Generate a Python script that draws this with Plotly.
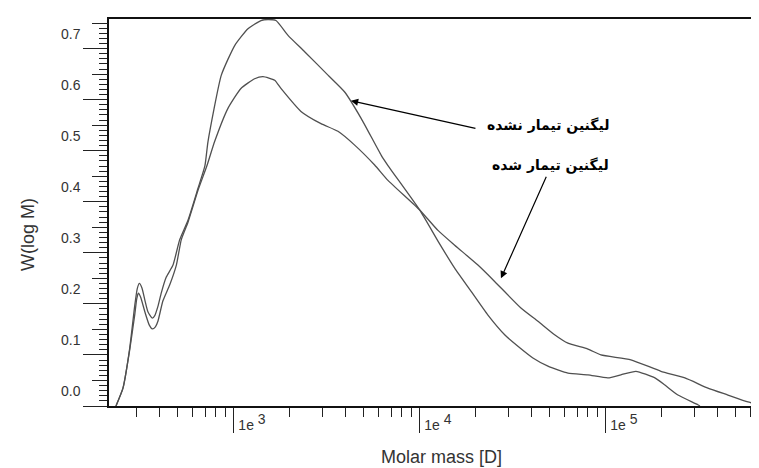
import plotly.graph_objects as go

# Molar mass [D] and W(log M)
mass_untreated = [232, 253, 275, 293, 302, 310, 320, 332, 345, 364, 375, 390, 407, 432, 470, 511,
                  566, 640, 698, 725, 855, 1009, 1189, 1397, 1523, 1682, 1952, 2399, 3202, 3937,
                  4836, 6194, 6730, 9963, 12500, 15370, 18800, 23210, 28640, 33640, 40500, 48770,
                  62480, 80040, 102500, 120400, 145000, 183400, 207600, 243900, 312300, 320200]
w_untreated = [0.0, 0.035, 0.113, 0.198, 0.230, 0.240, 0.231, 0.207, 0.184, 0.172, 0.177, 0.195,
               0.222, 0.252, 0.276, 0.326, 0.364, 0.426, 0.471, 0.518, 0.648, 0.706, 0.739, 0.755,
               0.757, 0.755, 0.726, 0.694, 0.648, 0.615, 0.563, 0.491, 0.471, 0.384, 0.323, 0.270,
               0.225, 0.178, 0.139, 0.117, 0.094, 0.078, 0.0645, 0.061, 0.055, 0.061, 0.068, 0.055,
               0.041, 0.0215, 0.0025, 0.0]

mass_treated = [232, 253, 275, 293, 300, 306, 315, 332, 350, 364, 378, 390, 415, 451, 490, 521,
                566, 640, 716, 787, 928, 1090, 1292, 1432, 1655, 1789, 2292, 2936, 3623, 4456,
                5707, 6730, 9963, 12500, 15370, 20500, 25210, 34910, 43100, 53200, 62480, 80040,
                94000, 136200, 197600, 265900, 353500, 452900, 580000, 716000]
w_treated = [0.0, 0.035, 0.110, 0.180, 0.210, 0.221, 0.213, 0.184, 0.159, 0.151, 0.155, 0.166,
             0.206, 0.237, 0.276, 0.326, 0.360, 0.422, 0.471, 0.518, 0.583, 0.622, 0.641, 0.645,
             0.638, 0.622, 0.577, 0.553, 0.538, 0.511, 0.472, 0.442, 0.384, 0.344, 0.315, 0.276,
             0.244, 0.192, 0.166, 0.139, 0.123, 0.1115, 0.100, 0.0905, 0.068, 0.055, 0.035, 0.0215,
             0.008, 0.0]

label_untreated = "لیگنین تیمار نشده"
label_treated = "لیگنین تیمار شده"

y_major = [0.0, 0.1, 0.2, 0.3, 0.4, 0.5, 0.6, 0.7]
y_major_text = ["0.0", "0.1", "0.2", "0.3", "0.4", "0.5", "0.6", "0.7"]
y_mid = [0.05, 0.15, 0.25, 0.35, 0.45, 0.55, 0.65, 0.75]
x_major = [1e3, 1e4, 1e5]
x_exponents = ["3", "4", "5"]
x_minor = [300, 400, 500, 600, 700, 800, 900,
           2000, 3000, 4000, 5000, 6000, 7000, 8000, 9000,
           20000, 30000, 40000, 50000, 60000, 70000, 80000, 90000,
           200000, 300000, 400000, 500000, 600000, 700000]

x_major_text = ['1e <sup><span style="font-size:14px">' + e + '</span></sup>' for e in x_exponents]

Y_RANGE = [0, 0.758]
X_RANGE = [2.328, 5.85]

line_style = dict(color="#505050", width=1.3, shape="spline", smoothing=0.5)

fig = go.Figure()
fig.add_trace(go.Scatter(x=mass_untreated, y=w_untreated, mode="lines", line=line_style,
                         name=label_untreated, showlegend=False, hoverinfo="skip"))
fig.add_trace(go.Scatter(x=mass_treated, y=w_treated, mode="lines", line=line_style,
                         name=label_treated, showlegend=False, hoverinfo="skip"))
# empty trace so the overlaying axis carrying the mid-length ticks is drawn
fig.add_trace(go.Scatter(x=[], y=[], yaxis="y2", showlegend=False, hoverinfo="skip"))

sans = "Liberation Sans, Arial, sans-serif"
tick_font = dict(family=sans, size=14, color="#333333")

fig.update_layout(
    width=759, height=468,
    margin=dict(l=101, r=3, t=11, b=70),
    paper_bgcolor="white", plot_bgcolor="white",
    xaxis=dict(
        type="log", range=X_RANGE, showgrid=False, zeroline=False,
        showline=True, linecolor="#111111", linewidth=1.5, mirror=True,
        ticks="outside", ticklen=25, tickwidth=1.2, tickcolor="#222222",
        tickvals=x_major, ticktext=x_major_text, tickfont=tick_font,
        ticklabelshift=18, ticklabelstandoff=-20,
        minor=dict(tickvals=x_minor, ticks="outside", ticklen=9, tickwidth=1.2,
                   tickcolor="#222222", showgrid=False),
    ),
    yaxis=dict(
        range=Y_RANGE, showgrid=False, zeroline=False,
        showline=True, linecolor="#111111", linewidth=1.5,
        ticks="outside", ticklen=24, tickwidth=1.2, tickcolor="#222222",
        tickvals=y_major, ticktext=y_major_text, tickfont=tick_font,
        ticklabelshift=-15, ticklabelstandoff=0,
        minor=dict(dtick=0.01, tick0=0, ticks="outside", ticklen=8, tickwidth=1.2,
                   tickcolor="#222222", showgrid=False),
    ),
    yaxis2=dict(
        overlaying="y", anchor="x", side="left", range=Y_RANGE,
        showgrid=False, zeroline=False, showline=False,
        ticks="outside", ticklen=16, tickwidth=1.2, tickcolor="#222222",
        tickvals=y_mid, showticklabels=False,
    ),
    annotations=[
        dict(text="W(log M)", xref="paper", yref="paper", x=-0.124, y=0.444,
             textangle=-90, showarrow=False, xanchor="center", yanchor="middle",
             font=dict(family=sans, size=18, color="#333333")),
        dict(text="Molar mass [D]", xref="paper", yref="paper", x=0.507, y=-0.133,
             showarrow=False, xanchor="center", yanchor="middle",
             font=dict(family=sans, size=18, color="#333333")),
        dict(text="<b>" + label_untreated + "</b>", xref="paper", yref="paper",
             x=0.7665, y=0.7255, showarrow=False, xanchor="right", yanchor="middle",
             font=dict(family="DejaVu Sans, sans-serif", size=14, color="#000000")),
        dict(text="<b>" + label_treated + "</b>", xref="paper", yref="paper",
             x=0.7665, y=0.622, showarrow=False, xanchor="right", yanchor="middle",
             font=dict(family="DejaVu Sans, sans-serif", size=14, color="#000000")),
        dict(text="", x=3.629, y=0.598, xref="x", yref="y", showarrow=True,
             ax=126, ay=28, arrowhead=2, arrowsize=1.2, arrowwidth=1.2, arrowcolor="#000000"),
        dict(text="", x=4.4355, y=0.250, xref="x", yref="y", showarrow=True,
             ax=46, ay=-103, arrowhead=2, arrowsize=1.2, arrowwidth=1.2, arrowcolor="#000000"),
    ],
)

fig.write_html("out.html")
